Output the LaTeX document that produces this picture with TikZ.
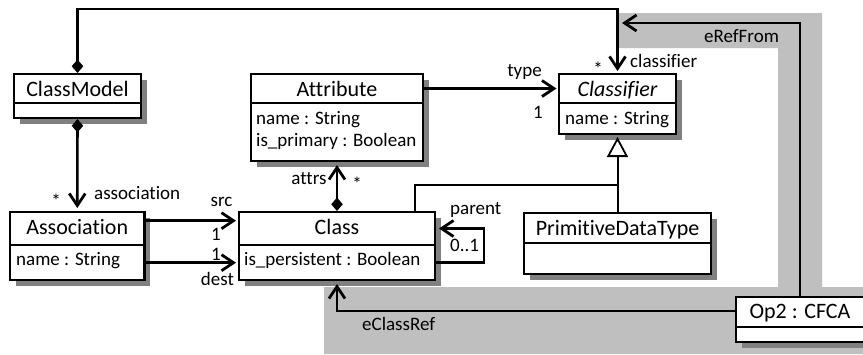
\documentclass[tikz,border=0pt]{standalone}
\usepackage{fontspec}
\setmainfont[Ligatures=NoCommon]{Carlito}
\usetikzlibrary{arrows.meta,shadows}
\definecolor{bandgray}{HTML}{BFBFBF}
\definecolor{shadowgray}{HTML}{808080}
\tikzset{
  umlbox/.style={draw=black,fill=white,line width=2.2pt,inner sep=0pt,outer sep=0pt,
    general shadow={shadow xshift=5.5pt,shadow yshift=-5.5pt,fill=shadowgray,draw=none}},
  divider/.style={draw=black,line width=2pt},
  title/.style={font=\fontsize{22}{26}\selectfont,anchor=base,inner sep=0pt},
  attr/.style={font=\fontsize{19}{23}\selectfont,anchor=base west,inner sep=0pt},
  lab/.style={font=\fontsize{19}{23}\selectfont,inner sep=0pt},
  conn/.style={draw=black,line width=2.6pt,miter limit=10},
  nav/.style={conn,-{Straight Barb[length=12pt,width=16pt,line width=2.8pt]}},
  comp/.style={conn,{Diamond[length=13.5pt,width=11.5pt]}-{Straight Barb[length=12pt,width=16pt,line width=2.8pt]}},
  genline/.style={draw=black,line width=2pt},
  gentip/.style={genline,-{Triangle[open,fill=white,length=20pt,width=21pt,line width=1.8pt]}}
}
\newcommand{\umlrect}[7]{% name x0 y0 x1 y1 ydiv
  \node[umlbox,minimum width={(#4-#2)*1pt},minimum height={(#5-#3)*1pt}] (#1) at ({(#2+#4)/2},{(#3+#5)/2}) {};
  \draw[divider] (#1.west |- 0,#6) -- (#1.east |- 0,#6);
}
\begin{document}
\begin{tikzpicture}[x=1pt,y=-1pt]
\clip (0,0) rectangle (863,354);
\fill[white] (0,0) rectangle (863,354);
% grey band
\fill[bandgray] (619,13) -- (822,13) -- (822,287) -- (863,287) -- (863,354) -- (324,354) -- (324,287) -- (778,287) -- (778,48) -- (619,48) -- cycle;
% boxes
\umlrect{classmodel}{14}{74}{141}{118}{103}{}
\umlrect{attribute}{251}{74}{423}{161}{103}{}
\umlrect{classifier}{559}{74}{676}{134}{103}{}
\umlrect{association}{10}{212}{144.5}{280}{245}{}
\umlrect{class}{239}{212}{435}{280}{245}{}
\umlrect{pdt}{524}{213}{711}{274}{243}{}
\umlrect{op}{736}{297}{864}{342}{327}{}
% titles
\node[title] (tClassModel) at (77.5,96) {ClassModel};
\node[title] (tAttribute) at (337,96) {Attribute};
\node[title] (tClassifier) at (617.5,96) {\itshape Classifier};
\node[title] (tAssociation) at (77.25,234.7) {Association};
\node[title] (tClass) at (337,234.7) {Class};
\node[title] (tPdt) at (617.5,235) {PrimitiveDataType};
\node[title] (tOp) at (800,318.7) {Op2 : CFCA};
% attributes
\node[attr] (aName) at (256,124) {name : String};
\node[attr] (aPrimary) at (256,146) {is\_primary : Boolean};
\node[attr] (cName) at (565,124) {name : String};
\node[attr] (asName) at (16,265.7) {name : String};
\node[attr] (clPers) at (244,265.7) {is\_persistent : Boolean};
% connectors
\coordinate (eRefTip) at (622,23);
\draw[comp,shorten <=1pt,shorten >=3pt] (classmodel.north) -- (classmodel.north |- 0,9) -- (classifier.north |- 0,9) -- (classifier.north);
\draw[comp,shorten <=1pt,shorten >=4pt] (classmodel.south) -- (association.north);
\draw[nav,shorten >=2.5pt] (attribute.east |- 0,88.5) -- (classifier.west |- 0,88.5);
\draw[comp,shorten <=1pt,shorten >=4pt] (class.north) -- (attribute.south);
\draw[nav,shorten >=3pt] (association.east |- 0,220.7) -- (class.west |- 0,220.7);
\draw[nav,shorten >=3pt] (association.east |- 0,262.7) -- (class.west |- 0,262.7);
\draw[nav,shorten >=4pt] (class.east |- 0,262.7) -- (484,262.7) -- (484,228.5) -- (class.east |- 0,228.5);
\draw[nav] (op.north) -- (op.north |- eRefTip) -- (eRefTip);
\draw[nav,shorten >=4pt] (op.west |- 0,311) -- (class.south |- 0,311) -- (class.south);
\coordinate (genJoin) at (classifier.south |- 0,185);
\draw[genline] (415,0 |- class.north) -- (415,185) -- (genJoin);
\draw[gentip,shorten >=3pt] (pdt.north) -- (classifier.south);
% connector labels
\node[lab] (lType) at (524.5,72) {type};
\node[lab] (lOne) at (538,112) {1};
\node[lab] (lStarA) at (598,69) {*};
\node[lab,anchor=west] (lClassifier) at (630,61) {classifier};
\node[lab,anchor=west] (lERef) at (704,36) {eRefFrom};
\node[lab,anchor=west] (lAssoc) at (94,193) {association};
\node[lab] (lStarB) at (56,201) {*};
\node[lab] (lSrc) at (221.5,202) {src};
\node[lab] (lOneA) at (216,234) {1};
\node[lab] (lOneB) at (216,254) {1};
\node[lab] (lDest) at (217.5,279) {dest};
\node[lab] (lAttrs) at (309,179) {attrs};
\node[lab] (lStarC) at (357,184) {*};
\node[lab,anchor=west] (lParent) at (450,210) {parent};
\node[lab,anchor=west] (lZero) at (450,245) {0..1};
\node[lab,anchor=west] (lEClass) at (362,324) {eClassRef};
\end{tikzpicture}
\end{document}
